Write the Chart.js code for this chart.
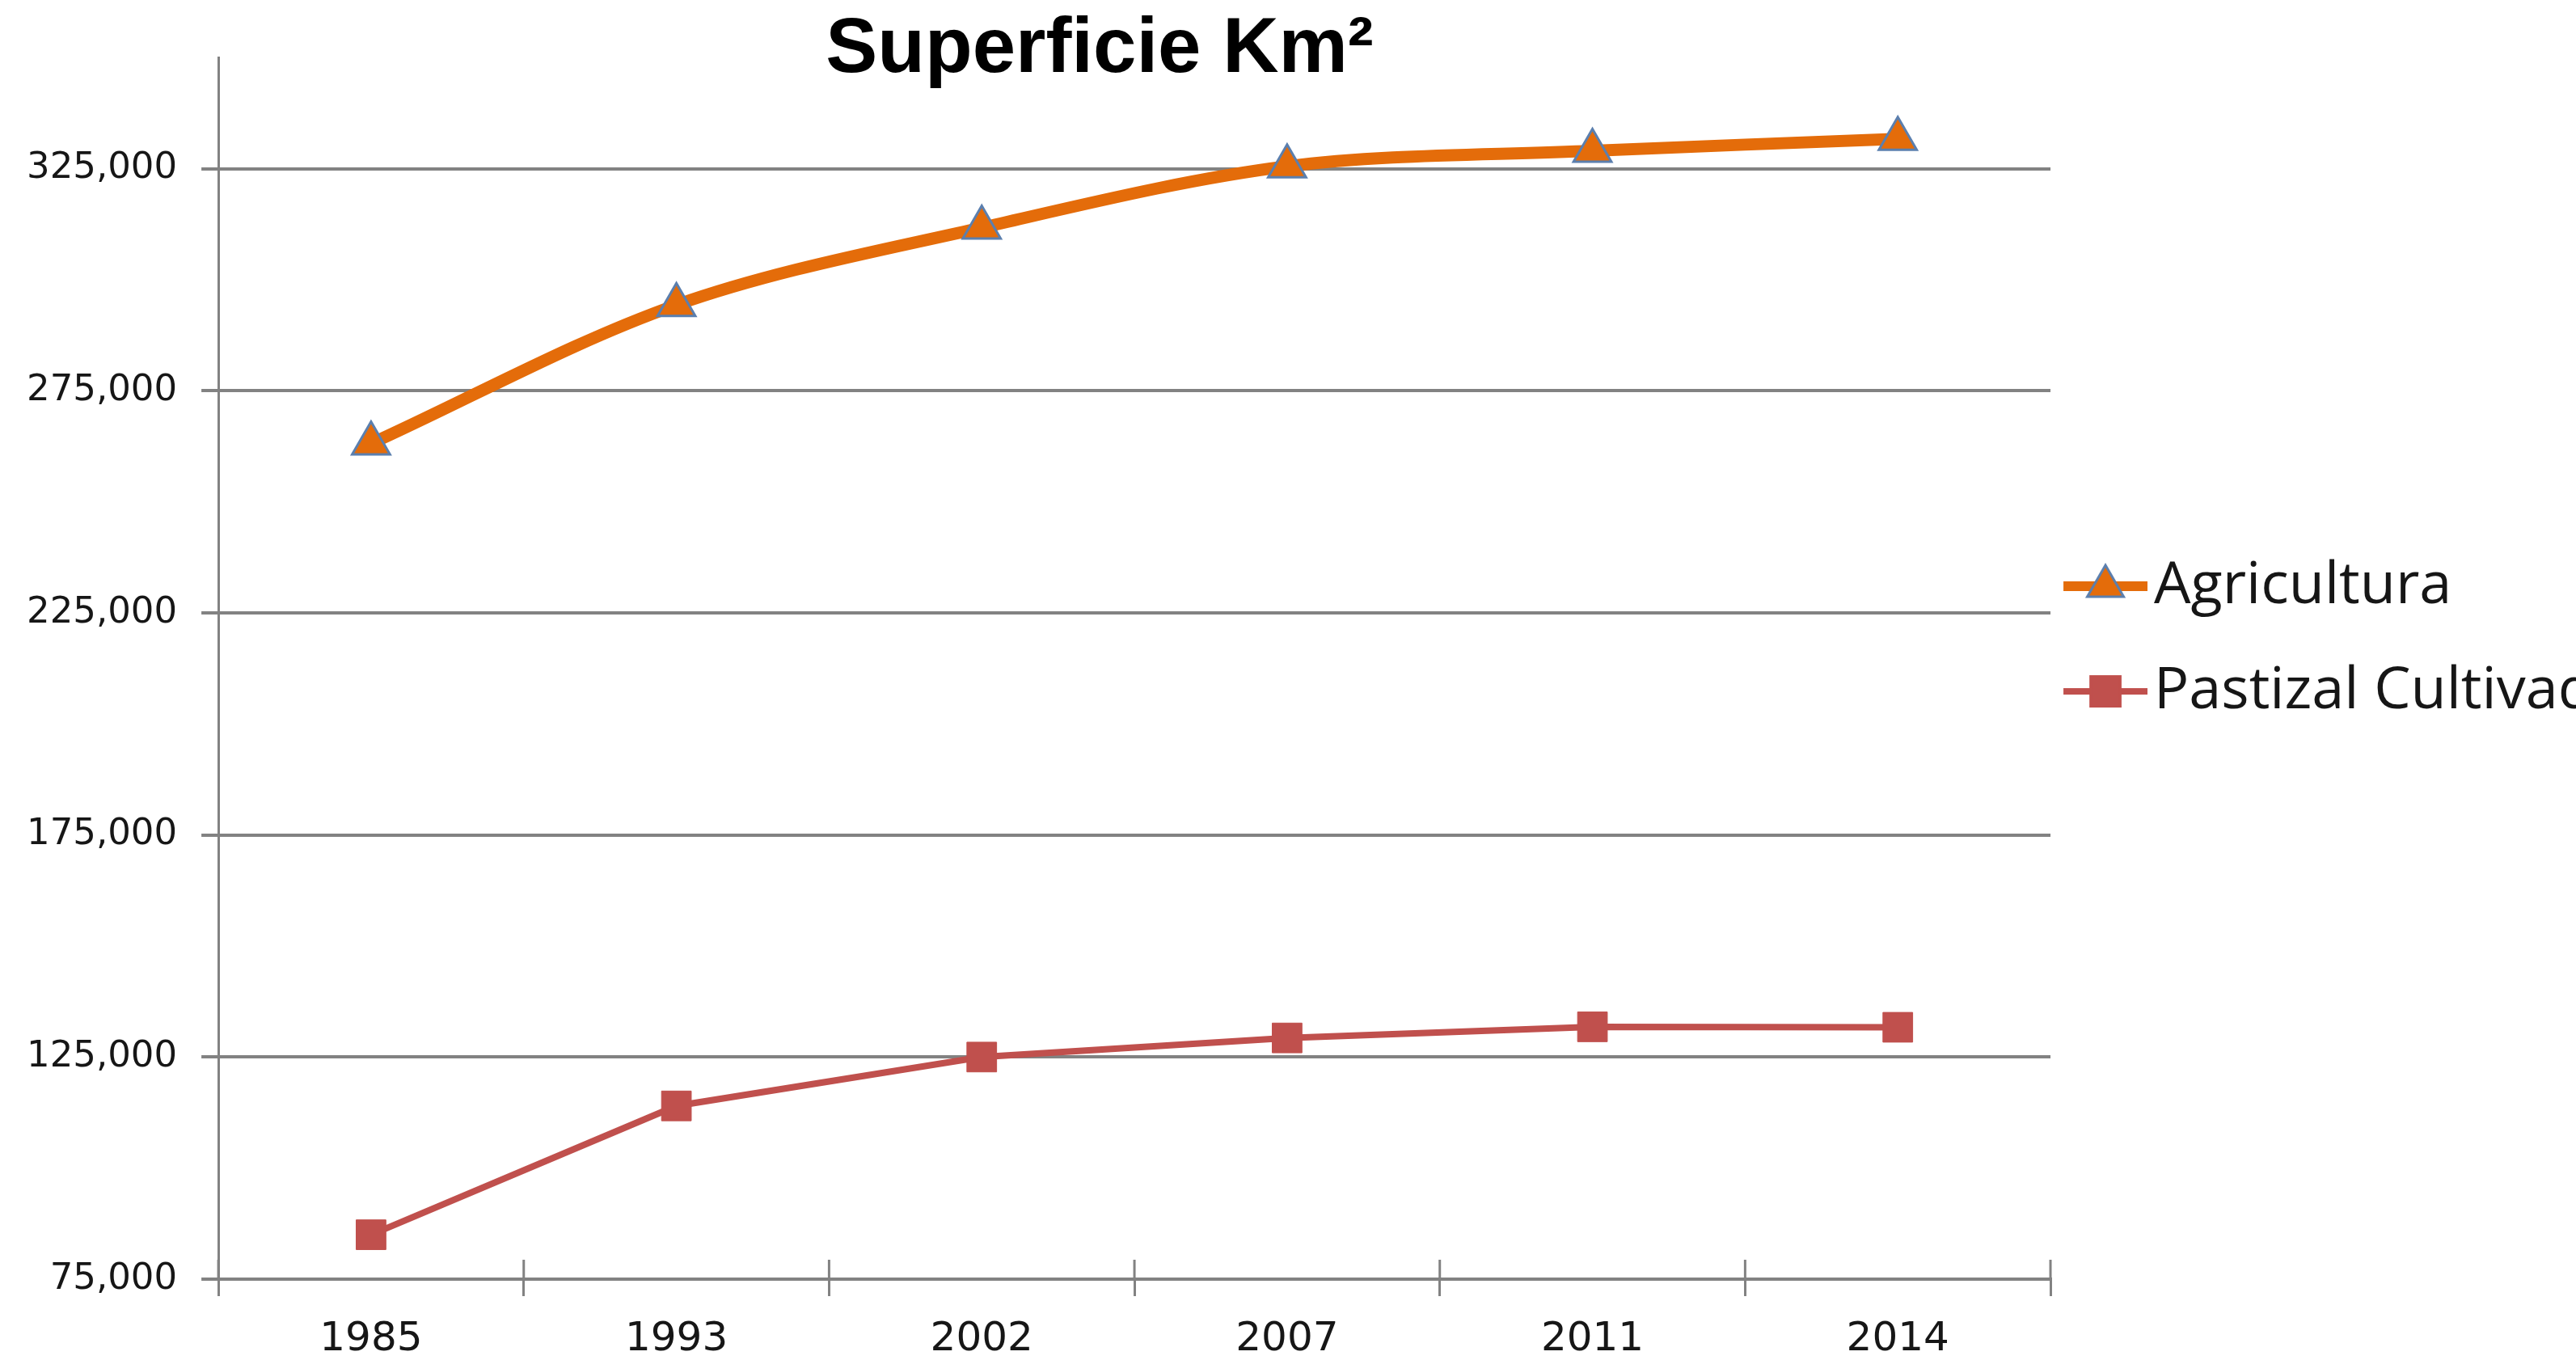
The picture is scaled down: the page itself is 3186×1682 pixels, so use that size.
<!DOCTYPE html>
<html>
<head>
<meta charset="utf-8">
<title>Superficie Km²</title>
<script src="https://cdn.jsdelivr.net/npm/chart.js@4.4.1/dist/chart.umd.min.js"></script>
<style>
  html, body { margin: 0; padding: 0; background: #fff; overflow: hidden; width: 3186px; height: 1682px; }
  #wrap { position: absolute; left: 0; top: 0; width: 3261px; height: 1682px; }
</style>
</head>
<body>
<div id="wrap"><canvas id="superficieChart"></canvas></div>
<script>
var years = ['1985', '1993', '2002', '2007', '2011', '2014'];
var agricultura = [263100, 294300, 311700, 325500, 329000, 331700];
var pastizal = [85000, 114000, 125000, 129300, 131800, 131700];
var yTicks = [75000, 125000, 175000, 225000, 275000, 325000];
var seriesNames = ['Agricultura', 'Pastizal Cultivado'];

var orange = '#E46C0A';
var red = '#C0504D';
var markerEdge = '#5B7FAE';
var axisGray = '#828282';
var textColor = '#161616';
var titleShift = -43; // the title sits a bit left of the plot centre

// legend glyph: a short line with the series marker on it
function legendIcon(color, lineWidth, style, radius, edge) {
    var c = document.createElement('canvas');
    c.width = 120;
    c.height = 60;
    var g = c.getContext('2d');
    g.strokeStyle = color;
    g.lineWidth = lineWidth;
    g.beginPath();
    g.moveTo(16, 30);
    g.lineTo(120, 30);
    g.stroke();
    g.fillStyle = color;
    g.strokeStyle = edge;
    g.lineWidth = 3;
    Chart.helpers.drawPoint(g, {pointStyle: style, radius: radius, rotation: 0, borderWidth: 3}, 68, 30);
    return c;
}

var icons = [
    legendIcon(orange, 12, 'triangle', 26, markerEdge),
    legendIcon(red, 8, 'rect', 26, red)
];

// Excel style tick marks that cross the category axis
var crossTicks = {
    id: 'crossTicks',
    afterLayout: function(chart) {
        if (chart.titleBlock) {
            chart.titleBlock.left += titleShift;
            chart.titleBlock.right += titleShift;
        }
    },
    afterDraw: function(chart) {
        var xs = chart.scales.x;
        var ctx = chart.ctx;
        var bottom = chart.chartArea.bottom;
        ctx.save();
        ctx.strokeStyle = axisGray;
        ctx.lineWidth = 3;
        for (var i = 0; i <= years.length; i++) {
            var px = xs.getPixelForValue(i - 0.5);
            ctx.beginPath();
            ctx.moveTo(px, bottom);
            ctx.lineTo(px, bottom - 24);
            ctx.stroke();
        }
        ctx.restore();
    }
};

var ctx = document.getElementById('superficieChart').getContext('2d');
var chart = new Chart(ctx, {
    type: 'line',
    data: {
        labels: years,
        datasets: [{
            label: seriesNames[0],
            data: agricultura,
            borderColor: orange,
            borderWidth: 15,
            tension: 0.33,
            pointStyle: 'triangle',
            pointRadius: 27,
            pointHoverRadius: 27,
            pointBackgroundColor: orange,
            pointBorderColor: markerEdge,
            pointBorderWidth: 3
        }, {
            label: seriesNames[1],
            data: pastizal,
            borderColor: red,
            borderWidth: 8,
            tension: 0,
            pointStyle: 'rect',
            pointRadius: 26,
            pointHoverRadius: 26,
            pointBackgroundColor: red,
            pointBorderColor: red,
            pointBorderWidth: 1
        }]
    },
    options: {
        responsive: true,
        maintainAspectRatio: false,
        animation: false,
        devicePixelRatio: 1,
        events: [],
        layout: {
            padding: {left: 3, right: 0, top: 0, bottom: -29}
        },
        plugins: {
            tooltip: {enabled: false},
            title: {
                display: true,
                text: 'Superficie Km²',
                fullSize: false,
                color: '#000',
                font: {family: 'Liberation Sans', size: 96, weight: 'bold', lineHeight: 1.2},
                padding: {top: 5, bottom: -49}
            },
            legend: {
                position: 'right',
                align: 'start',
                title: {
                    display: true,
                    text: '',
                    font: {size: 1, lineHeight: 1},
                    padding: {top: 0, bottom: 660}
                },
                labels: {
                    usePointStyle: true,
                    pointStyleWidth: 64,
                    padding: 28,
                    color: textColor,
                    font: {family: 'Open Sans', size: 72, lineHeight: 1.4167},
                    generateLabels: function(chart) {
                        return chart.data.datasets.map(function(ds, i) {
                            return {
                                text: [ds.label],
                                pointStyle: icons[i],
                                datasetIndex: i,
                                hidden: false,
                                fontColor: textColor,
                                lineWidth: 0,
                                fillStyle: 'transparent',
                                strokeStyle: 'transparent'
                            };
                        });
                    }
                }
            }
        },
        scales: {
            x: {
                offset: true,
                grid: {
                    offset: true,
                    drawOnChartArea: false,
                    color: axisGray,
                    lineWidth: 3,
                    tickLength: 21
                },
                border: {color: axisGray, width: 4},
                ticks: {
                    color: textColor,
                    padding: 24,
                    font: {family: 'DejaVu Sans', size: 50}
                }
            },
            y: {
                min: 75000,
                max: 350000,
                afterBuildTicks: function(axis) {
                    axis.ticks = yTicks.map(function(v) { return {value: v}; });
                },
                grid: {
                    color: axisGray,
                    lineWidth: 4,
                    tickLength: 21
                },
                border: {color: axisGray, width: 3},
                ticks: {
                    color: textColor,
                    padding: 30,
                    font: {family: 'DejaVu Sans', size: 45},
                    callback: function(v) { return Number(v).toLocaleString('en-US'); }
                }
            }
        }
    },
    plugins: [crossTicks]
});
</script>
</body>
</html>
